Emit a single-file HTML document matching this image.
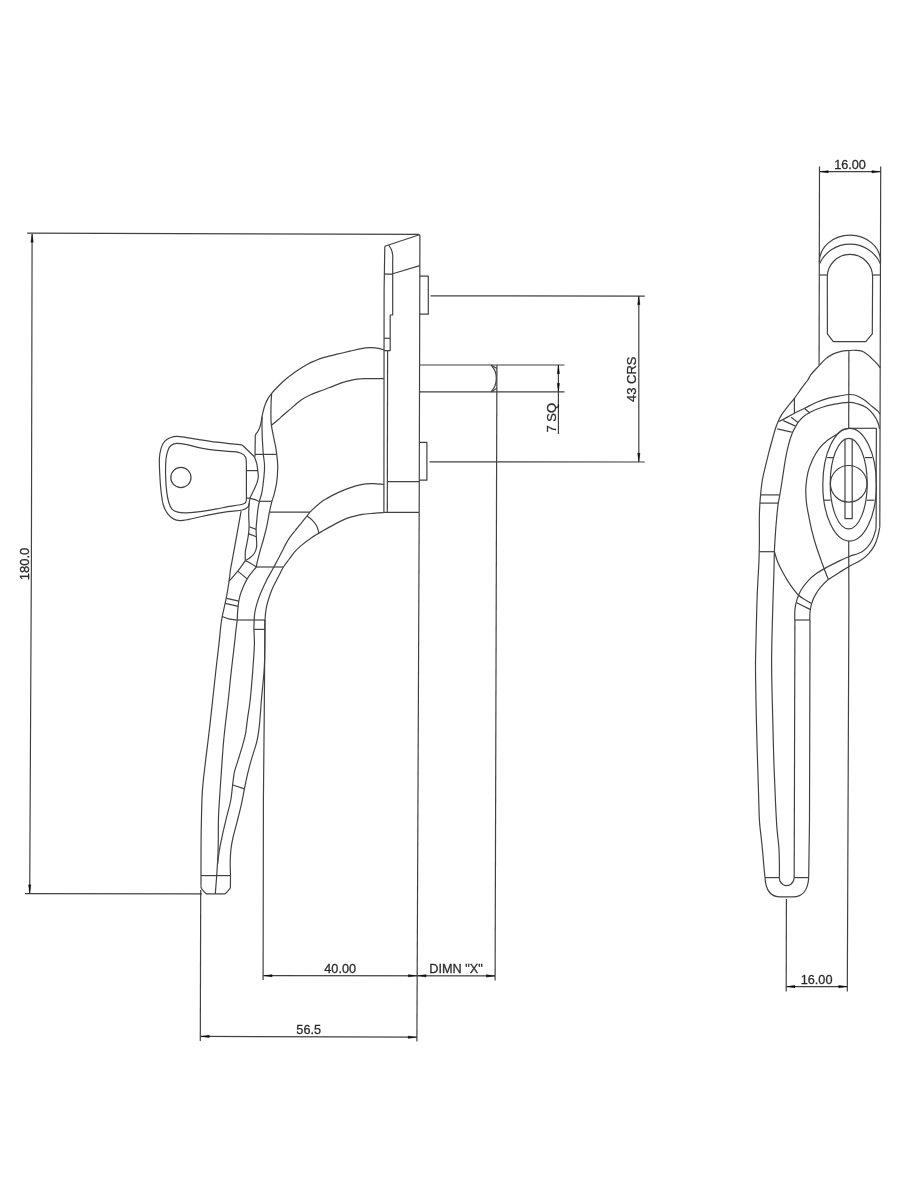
<!DOCTYPE html>
<html lang="en">
<head>
<meta charset="utf-8">
<title>Window handle technical drawing</title>
<style>
html,body{margin:0;padding:0;background:#fff;}
body{width:900px;height:1200px;overflow:hidden;}
svg{display:block;}
.ln{opacity:0.74;}
.ln path,.ln circle,.ln ellipse{fill:none;stroke:#000;stroke-width:1.2;stroke-linecap:butt;stroke-linejoin:round;}
.ln .d{stroke-width:1.2;}
.ar path{fill:#000;fill-opacity:0.85;stroke:#000;stroke-opacity:0.35;stroke-width:0.7;stroke-linejoin:round;}
.tx{opacity:0.85;}
.tx text{font-family:"Liberation Sans",Arial,Helvetica,sans-serif;fill:#000;stroke:#000;stroke-width:0.3;}
.ar{opacity:0.999;}
</style>
</head>
<body>
<svg width="900" height="1200" viewBox="0 0 900 1200">
<g class="ln">
<path class="o" d="M384.8,246.2L384.1,290.0L383.9,512.4"/>
<path class="o" d="M387.6,350.6L387.3,512.4"/>
<path class="o" d="M384.8,246.2L419.5,234.7L419.9,236.0L419.2,512.4"/>
<path class="o" d="M383.9,512.4L419.2,512.4"/>
<path class="o" d="M388.7,245.0C389.1,245.8 390.6,247.8 391.3,249.5C392.0,251.2 392.5,253.2 392.7,255.0C392.9,256.8 392.7,259.2 392.7,260.0"/>
<path class="o" d="M392.7,260.0L392.7,273.7L419.8,265.6"/>
<path class="o" d="M384.4,274.2L392.7,274.2L392.7,315.0L390.2,315.0L390.2,350.6L384.0,350.6"/>
<path class="o" d="M384.0,338.3L390.2,338.3"/>
<path class="o" d="M387.4,481.6L419.3,481.6"/>
<path class="o" d="M419.7,276.2L428.3,276.2L428.3,314.2L419.7,314.2"/>
<path class="o" d="M419.3,442.4L426.9,442.4L426.9,480.2L419.3,480.2"/>
<path class="o" d="M419.6,365.0L564.5,365.0"/>
<path class="o" d="M419.6,391.9L564.5,391.9"/>
<path class="o" d="M491.0,365.0C491.7,366.0 494.1,368.8 495.0,371.0C495.9,373.2 496.3,375.9 496.3,378.4C496.3,380.9 495.9,383.6 495.0,385.8C494.1,388.1 491.7,390.9 491.0,391.9"/>
<path class="o" d="M491.0,365.0L496.9,368.5"/>
<path class="o" d="M491.0,391.9L496.8,388.2"/>
<path class="o" d="M383.9,349.8C383.1,349.6 381.2,348.7 378.9,348.3C376.6,347.9 373.1,347.5 370.0,347.6C366.9,347.7 363.3,348.2 360.0,348.8C356.7,349.4 353.8,350.3 350.0,351.2C346.2,352.1 341.2,353.2 337.0,354.2C332.8,355.2 328.7,356.1 325.0,357.2C321.3,358.3 317.9,359.6 315.0,360.8C312.1,362.0 310.5,362.6 307.5,364.3C304.5,366.0 300.3,368.6 297.0,370.8C293.7,373.1 290.3,375.5 287.5,377.8C284.7,380.1 282.6,381.9 280.0,384.5C277.4,387.1 273.7,390.9 271.7,393.3C269.7,395.7 269.0,396.7 267.8,398.9C266.6,401.1 265.3,403.9 264.4,406.7C263.5,409.5 262.8,412.7 262.2,415.6C261.6,418.6 261.2,422.1 260.6,424.4C260.1,426.7 259.8,427.6 258.9,429.4C258.0,431.2 255.9,434.1 255.3,435.0"/>
<path class="o" d="M255.3,435.0L255.0,456.7"/>
<path class="o" d="M383.9,378.6C381.2,378.6 372.3,378.5 367.8,378.6C363.3,378.7 360.4,378.6 356.7,379.1C353.0,379.6 349.3,380.6 345.6,381.7C341.9,382.8 338.1,384.2 334.4,385.6C330.7,387.0 327.0,388.6 323.3,390.0C319.6,391.4 315.9,392.4 312.2,394.1C308.5,395.8 304.8,397.4 301.1,400.0C297.4,402.6 293.0,406.8 290.0,409.4C287.0,411.9 285.0,413.5 283.0,415.3C281.0,417.1 279.8,418.3 277.8,420.0C275.9,421.7 272.4,424.4 271.3,425.3"/>
<path class="o" d="M271.7,393.3C271.6,394.8 271.2,398.9 271.1,402.2C271.0,405.5 270.9,409.6 270.9,413.3C270.9,417.0 270.9,420.7 271.3,424.4C271.7,428.1 272.6,431.9 273.3,435.6C274.0,439.3 275.0,443.6 275.6,446.7C276.2,449.8 276.4,451.6 276.7,454.4C277.0,457.2 277.5,460.5 277.6,463.3C277.8,466.1 277.8,468.0 277.6,471.1C277.5,474.2 277.2,478.5 276.7,482.2C276.2,485.9 275.2,490.0 274.4,493.3C273.6,496.6 272.5,499.0 271.7,502.2C270.9,505.4 270.2,508.1 269.4,512.2C268.6,516.3 267.7,522.1 266.7,526.7C265.7,531.3 264.4,535.9 263.3,540.0C262.2,544.1 261.0,547.4 260.0,551.1C259.0,554.8 257.8,559.6 257.2,562.2C256.6,564.9 256.5,566.2 256.4,567.0"/>
<path class="o" d="M262.2,416.7C262.2,418.0 262.0,421.2 262.0,424.4C262.0,427.5 262.1,431.9 262.2,435.6C262.3,439.3 262.6,443.6 262.8,446.7C263.0,449.8 263.0,451.6 263.3,454.4C263.6,457.2 264.2,460.5 264.4,463.3C264.6,466.1 264.6,468.0 264.4,471.1C264.2,474.2 263.8,478.5 263.3,482.2C262.9,485.9 262.4,490.1 261.7,493.3C261.0,496.5 260.0,498.3 259.4,501.1C258.8,503.9 258.2,506.7 257.8,510.0C257.4,513.3 257.0,518.0 256.7,521.1C256.4,524.2 256.2,526.1 256.1,528.9C256.1,531.7 256.3,534.8 256.4,537.8C256.5,540.8 256.9,544.1 256.6,546.7C256.3,549.3 255.5,551.4 254.4,553.3C253.3,555.1 251.5,556.6 250.0,557.8C248.5,559.0 246.1,560.1 245.3,560.6"/>
<path class="o" d="M255.0,454.4L276.4,454.4"/>
<path class="o" d="M254.4,456.7C254.8,457.8 256.1,460.9 256.7,463.3C257.3,465.7 257.5,468.9 257.8,471.1C258.1,473.3 258.4,474.9 258.3,476.7C258.2,478.5 257.8,480.2 257.2,482.2C256.6,484.2 255.3,486.9 254.4,488.9C253.5,490.9 252.4,492.8 251.7,494.4C251.0,496.0 250.4,496.6 250.0,498.3C249.6,500.0 249.3,501.5 249.1,504.4C248.9,507.3 248.7,511.9 248.7,515.6C248.7,519.3 249.2,523.4 249.1,526.7C249.0,530.0 248.7,532.7 248.3,535.6C247.9,538.5 247.2,541.6 246.7,544.4C246.2,547.2 245.5,549.5 245.3,552.2C245.1,554.9 245.3,559.2 245.3,560.6"/>
<path class="o" d="M254.4,456.7L242.2,445.0"/>
<path class="o" d="M242.2,445.0C237.9,444.5 224.7,443.2 216.7,442.2C208.7,441.2 200.9,439.9 194.4,438.9C187.9,437.9 181.9,436.6 177.8,436.4C173.7,436.2 172.2,436.9 170.0,437.8C167.8,438.7 165.9,439.9 164.4,441.7C162.9,443.4 161.9,445.5 161.1,448.3C160.3,451.1 159.6,453.9 159.4,458.3C159.2,462.8 159.5,469.4 159.8,475.0C160.1,480.6 160.5,486.7 161.1,491.7C161.7,496.7 162.2,501.3 163.3,505.0C164.4,508.7 166.1,511.6 167.8,513.9C169.5,516.2 171.3,517.8 173.3,518.9C175.3,520.0 177.4,520.5 180.0,520.6C182.6,520.7 184.6,520.2 188.9,519.4C193.2,518.6 199.1,516.9 205.6,515.6C212.1,514.3 221.7,512.6 227.8,511.7C233.9,510.8 238.9,510.8 242.2,510.0C245.5,509.2 246.6,508.4 247.8,507.2C249.0,506.0 249.1,503.7 249.3,503.0"/>
<path class="o" d="M246.4,492.0C246.4,490.0 246.4,484.8 246.4,480.0C246.4,475.2 246.4,467.1 246.3,463.3C246.2,459.5 246.5,458.9 245.6,457.2C244.7,455.5 243.1,454.2 241.1,453.3C239.1,452.4 237.4,452.2 233.3,451.7C229.2,451.2 222.2,450.9 216.7,450.3C211.1,449.7 205.2,448.8 200.0,447.8C194.8,446.8 189.5,445.1 185.6,444.4C181.7,443.6 179.0,443.2 176.7,443.3C174.4,443.4 173.1,444.0 171.7,445.0C170.3,446.0 169.2,447.2 168.3,449.4C167.4,451.6 166.6,454.0 166.1,458.3C165.6,462.6 165.5,469.4 165.6,475.0C165.7,480.6 166.1,487.1 166.7,491.7C167.2,496.3 168.0,499.9 168.9,502.8C169.8,505.8 170.7,507.8 172.2,509.4C173.7,511.0 175.4,511.6 177.8,512.2C180.2,512.8 183.0,512.9 186.7,512.8C190.4,512.7 195.0,512.4 200.0,511.7C205.0,511.1 212.1,509.7 216.7,508.9C221.3,508.1 224.1,507.3 227.8,506.7C231.5,506.1 236.1,505.5 238.9,505.0C241.7,504.5 243.2,504.2 244.4,503.5C245.6,502.8 246.0,502.4 246.3,500.5C246.6,498.6 246.4,493.4 246.4,492.0"/>
<path class="o" d="M246.4,497.8L250.0,498.3"/>
<path class="o" d="M246.4,470.6L257.8,470.6"/>
<path class="o" d="M250.0,498.3C250.7,498.5 252.9,498.9 254.4,499.4C255.9,499.9 258.1,501.0 258.9,501.3"/>
<path class="o" d="M258.9,501.3L271.7,501.3"/>
<path class="o" d="M249.4,526.7L256.1,529.4"/>
<path class="o" d="M248.9,533.9L256.3,536.7"/>
<path class="o" d="M241.1,511.1C240.4,515.2 238.0,528.4 236.7,535.6C235.4,542.8 234.3,548.9 233.3,554.4C232.3,559.9 231.3,564.4 230.6,568.9C229.9,573.4 229.8,576.6 229.1,581.1C228.4,585.6 227.6,591.0 226.7,595.6C225.8,600.2 224.7,605.4 223.9,608.9C223.2,612.4 222.8,613.6 222.2,616.7C221.6,619.9 221.1,623.2 220.6,627.8C220.1,632.4 219.7,637.2 218.9,644.4C218.1,651.6 216.8,662.2 215.8,671.1C214.8,680.0 213.9,688.9 212.9,697.8C211.9,706.7 211.1,714.8 210.0,724.4C208.9,734.0 207.3,746.7 206.2,755.6C205.1,764.5 204.3,771.3 203.6,777.8C202.9,784.3 202.5,787.9 202.2,794.4C201.8,800.9 201.7,809.3 201.5,816.7C201.3,824.1 201.2,829.3 201.1,838.9C201.0,848.5 201.0,866.6 201.0,874.4C201.0,882.2 201.0,883.6 201.0,885.5"/>
<path class="o" d="M201,885.5 L201.1,887.6 Q201.6,889.4 206.3,893.9 L225,893.9 Q229.8,889.4 230.4,887.6 L230.5,875.6"/>
<path class="o" d="M201.1,875.6L230.5,875.6"/>
<path class="o" d="M245.3,560.6C244.1,562.4 240.5,567.7 237.8,571.1C235.1,574.5 230.6,579.4 229.1,581.1"/>
<path class="o" d="M245.3,560.6C246.1,561.0 248.2,561.9 250.0,563.0C251.8,564.1 255.3,566.3 256.4,567.0"/>
<path class="o" d="M237.8,571.1L247.2,578.9"/>
<path class="o" d="M256.1,567.0L283.3,567.0"/>
<path class="o" d="M269.4,512.2L310.0,512.2"/>
<path class="o" d="M256.4,567.0C255.5,568.0 252.6,571.3 251.1,573.3C249.6,575.3 248.5,576.7 247.2,578.9C245.9,581.1 244.5,583.9 243.3,586.7C242.1,589.5 240.8,592.7 240.0,595.6C239.2,598.5 238.7,601.6 238.3,604.4C237.9,607.2 237.8,609.6 237.6,612.2C237.4,614.8 237.4,617.2 237.2,620.0C236.9,622.8 236.6,624.8 236.1,628.9C235.6,633.0 235.2,637.4 234.4,644.4C233.6,651.4 232.3,662.2 231.3,671.1C230.3,680.0 229.4,689.3 228.5,697.8C227.6,706.3 226.5,714.4 225.6,722.2C224.7,730.0 224.0,737.0 223.3,744.4C222.7,751.8 222.2,759.1 221.7,766.7C221.2,774.3 220.6,781.7 220.1,790.0C219.6,798.3 218.8,808.6 218.5,816.7C218.2,824.9 218.4,832.0 218.3,838.9C218.2,845.8 218.1,851.9 217.8,858.0C217.5,864.1 217.1,869.6 216.7,875.6C216.3,881.6 215.5,890.9 215.3,893.9"/>
<path class="o" d="M226.7,598.3L238.9,601.1"/>
<path class="o" d="M225.3,603.3L238.3,606.3"/>
<path class="o" d="M222.2,616.4C223.3,616.8 226.4,618.3 228.9,618.9C231.4,619.5 235.8,619.8 237.2,620.0"/>
<path class="o" d="M237.2,620.0L265.0,620.0"/>
<path class="d" d="M254.0,629.4L264.8,629.4"/>
<path class="o" d="M383.9,484.3C382.1,484.2 376.4,483.7 373.3,483.6C370.2,483.5 368.4,483.6 365.6,483.9C362.8,484.2 360.0,484.7 356.7,485.6C353.4,486.5 349.3,487.9 345.6,489.4C341.9,490.9 338.1,492.5 334.4,494.4C330.7,496.3 326.4,498.6 323.3,500.6C320.2,502.7 317.8,504.8 315.6,506.7C313.4,508.6 311.5,510.6 310.0,512.2C308.5,513.8 308.2,514.5 306.7,516.4C305.2,518.2 303.0,521.0 301.1,523.3C299.2,525.6 297.5,527.7 295.6,530.0C293.8,532.3 291.7,534.8 290.0,537.2C288.3,539.6 287.1,541.7 285.6,544.4C284.1,547.1 283.1,549.5 281.1,553.3C279.2,557.1 276.3,562.5 273.9,567.0C271.5,571.5 268.9,575.6 266.7,580.0C264.5,584.4 262.3,589.2 260.6,593.3C258.9,597.4 257.7,601.1 256.7,604.4C255.7,607.7 255.1,610.7 254.7,613.3C254.3,615.9 254.3,617.4 254.2,620.0C254.1,622.6 253.9,624.8 253.9,628.9C253.9,633.0 254.6,637.4 254.4,644.4C254.2,651.4 253.4,661.8 252.7,671.1C252.0,680.4 251.0,692.4 250.2,700.0C249.4,707.6 248.6,711.2 247.8,716.7C247.0,722.2 246.5,728.3 245.6,733.3C244.7,738.3 243.5,742.1 242.2,746.7C240.9,751.3 239.1,756.9 237.8,761.1C236.5,765.4 235.2,768.5 234.4,772.2C233.6,775.9 233.4,778.7 232.8,783.3C232.2,787.9 231.8,794.4 230.8,800.0C229.8,805.6 228.0,811.2 226.7,816.7C225.4,822.2 223.9,828.3 222.8,833.3C221.7,838.3 220.8,842.6 220.0,846.7C219.2,850.8 218.7,854.9 218.3,857.8C217.9,860.7 217.7,863.0 217.6,864.0"/>
<path class="o" d="M383.9,512.6C382.1,512.7 376.9,513.0 373.3,513.3C369.7,513.6 365.7,513.8 362.2,514.4C358.7,515.0 355.0,516.0 352.2,516.7C349.4,517.5 348.6,517.6 345.6,518.9C342.6,520.2 338.1,522.4 334.4,524.4C330.7,526.4 327.0,528.5 323.3,530.6C319.6,532.7 315.9,534.7 312.2,537.2C308.5,539.7 304.1,543.1 301.1,545.6C298.1,548.1 296.4,549.9 294.4,552.2C292.4,554.5 290.8,557.0 288.9,559.5C287.0,562.0 285.1,564.2 283.3,567.2C281.5,570.2 279.7,574.2 277.8,577.8C275.9,581.4 273.8,585.2 272.2,588.9C270.6,592.6 269.3,596.7 268.3,600.0C267.3,603.3 266.7,605.6 266.1,608.9C265.6,612.2 265.2,616.7 265.0,620.0C264.8,623.3 264.9,624.8 264.9,628.9C264.9,633.0 264.9,639.2 264.8,644.4C264.8,649.6 264.7,655.4 264.6,660.0C264.5,664.6 264.3,667.8 264.0,672.0C263.7,676.2 263.2,680.3 262.8,685.0C262.4,689.7 261.8,694.7 261.4,700.0C260.9,705.3 260.6,711.8 260.1,717.0C259.7,722.2 259.3,726.9 258.7,731.1C258.1,735.3 257.6,738.5 256.7,742.2C255.8,745.9 254.4,749.6 253.3,753.3C252.2,757.0 251.1,760.3 250.0,764.4C248.9,768.5 247.6,773.7 246.7,777.8C245.8,781.9 245.3,784.3 244.4,788.9C243.5,793.5 242.4,799.9 241.1,805.6C239.8,811.3 238.1,817.9 236.7,823.3C235.3,828.7 233.8,833.9 232.9,838.0C232.0,842.1 231.6,844.1 231.1,848.0C230.6,851.9 230.3,856.5 230.2,861.1C230.1,865.7 230.4,873.2 230.5,875.6"/>
<path class="o" d="M307.2,516.1C308.0,516.8 310.6,518.6 312.2,520.2C313.8,521.9 315.6,523.9 316.7,526.0C317.8,528.1 318.5,531.8 318.9,533.0"/>
<path class="o" d="M232.8,785.0L244.4,788.9"/>
<path class="d" d="M27.2,233.1L419.0,234.4"/>
<path class="d" d="M25.0,893.7L202.0,893.9"/>
<path class="d" d="M32.1,234.0L31.4,560.0L29.7,893.5"/>
<path class="d" d="M200.7,890.0L200.3,1041.0"/>
<path class="d" d="M265.0,620.0L264.2,720.0L263.4,800.0L263.1,980.0"/>
<path class="d" d="M419.2,512.4L416.9,1041.4"/>
<path class="d" d="M496.9,365.0L495.1,980.4"/>
<path class="d" d="M263.2,975.7L495.1,975.9"/>
<path class="d" d="M200.4,1036.4L416.9,1037.2"/>
<path class="d" d="M430.5,295.9L644.8,296.1"/>
<path class="d" d="M429.5,461.9L644.8,462.0"/>
<path class="d" d="M638.8,296.1L638.8,462.0"/>
<path class="d" d="M558.4,365.0L558.4,434.0"/>
<path class="o" d="M819.5,166.5L819.1,365.6"/>
<path class="o" d="M880.7,166.5L880.2,368.0L879.8,527.8"/>
<path class="d" d="M820.0,171.7L880.5,171.7"/>
<path class="o" d="M819.4,261.7 A30.6,26.7 0 0 1 880.6,261.7"/>
<path class="o" d="M819.4,263.9 A33.5,33.5 0 0 1 880.6,263.9"/>
<path class="o" d="M819.4,275.0L827.3,275.0"/>
<path class="o" d="M872.6,275.0L880.6,275.0"/>
<path class="o" d="M827.4,333.9 L827.3,277 A22.65,22.65 0 0 1 872.6,277 L872.3,333.9 L865.8,341.7 L833.3,341.7 Z"/>
<path class="o" d="M819.1,365.6C820.2,364.5 823.2,360.8 825.6,358.9C828.0,356.9 830.7,355.2 833.3,353.9C835.9,352.6 838.5,351.9 841.1,351.3C843.7,350.7 846.5,350.7 848.9,350.5C851.3,350.3 853.6,350.2 855.6,350.3C857.6,350.4 859.2,350.3 861.1,350.9C863.0,351.5 864.9,352.6 866.7,353.9C868.6,355.2 870.4,357.1 872.2,358.9C874.1,360.7 876.5,363.1 877.8,364.6C879.1,366.1 879.8,367.4 880.2,368.0"/>
<path class="o" d="M819.1,365.6C817.8,367.1 813.0,372.0 811.1,374.4C809.2,376.8 809.5,377.6 807.8,380.0C806.1,382.4 803.3,385.8 801.1,388.9C798.9,391.9 796.8,395.1 794.4,398.3C792.0,401.5 788.9,404.9 786.7,407.8C784.5,410.7 782.6,413.2 781.1,415.6C779.6,418.0 778.8,419.8 777.8,422.2C776.8,424.6 775.9,427.0 775.0,430.0C774.1,433.0 773.2,436.3 772.2,440.0C771.2,443.7 770.0,447.9 768.9,452.2C767.8,456.5 766.7,461.0 765.6,465.6C764.5,470.2 763.2,475.0 762.4,480.0C761.5,485.0 761.0,490.1 760.5,495.8C760.0,501.5 759.6,506.7 759.4,514.1C759.2,521.5 759.5,532.0 759.4,540.0C759.3,548.0 759.3,552.9 758.9,562.2C758.5,571.5 757.7,582.6 757.2,595.6C756.7,608.6 756.3,628.4 756.0,640.0C755.7,651.6 755.5,656.7 755.5,665.0C755.5,673.3 755.6,680.0 755.8,690.0C756.0,700.0 756.2,713.3 756.5,725.0C756.8,736.7 757.1,748.3 757.5,760.0C757.9,771.7 758.3,785.0 758.6,795.0C758.9,805.0 759.0,813.0 759.4,820.0C759.8,827.0 760.5,831.2 761.1,836.7C761.7,842.2 762.3,848.3 762.8,853.3C763.3,858.3 763.5,862.7 763.9,866.7C764.3,870.8 764.8,875.8 765.0,877.6"/>
<path class="o" d="M765,877.6 C765.6,889 770.5,896.9 780.5,896.9 L793,896.9 C803,896.9 808.1,889 808.7,877.6"/>
<path class="o" d="M765.0,877.6L779.4,877.6"/>
<path class="o" d="M794.2,877.6L808.7,877.6"/>
<path class="o" d="M779.4,877.6C779.5,878.2 779.4,880.0 780.0,881.1C780.6,882.2 781.7,883.6 782.8,884.4C783.9,885.1 785.4,885.6 786.7,885.6C788.0,885.6 789.5,885.1 790.6,884.4C791.7,883.6 792.7,882.2 793.3,881.1C793.9,880.0 794.1,878.2 794.2,877.6"/>
<path class="o" d="M794.9,620.0L794.2,877.6"/>
<path class="o" d="M810.0,620.0L809.5,820.0L808.7,877.6"/>
<path class="o" d="M798.3,422.2C797.8,422.9 796.6,424.8 795.6,426.7C794.6,428.6 793.3,430.5 792.2,433.3C791.1,436.1 789.9,439.6 788.9,443.3C787.9,447.0 786.9,451.3 786.1,455.6C785.3,459.9 784.5,464.8 783.9,468.9C783.2,473.0 782.9,475.8 782.2,480.0C781.6,484.2 780.7,489.8 780.0,494.0C779.3,498.2 778.6,500.1 778.0,505.0C777.4,509.9 776.7,517.5 776.2,523.3C775.7,529.1 775.3,535.3 775.0,540.0C774.7,544.7 774.6,546.2 774.4,551.7C774.2,557.2 774.2,564.1 773.9,573.3C773.6,582.5 773.1,595.6 772.8,606.7C772.5,617.8 772.1,630.3 771.9,640.0C771.7,649.7 771.6,656.7 771.6,665.0C771.6,673.3 771.8,680.0 772.0,690.0C772.2,700.0 772.6,713.3 772.9,725.0C773.2,736.7 773.4,748.3 773.8,760.0C774.2,771.7 774.8,785.0 775.2,795.0C775.6,805.0 776.1,814.0 776.4,820.0C776.7,826.0 776.8,826.5 777.2,831.1C777.6,835.7 778.5,842.2 778.9,847.8C779.3,853.3 779.3,859.4 779.4,864.4C779.5,869.4 779.4,875.4 779.4,877.6"/>
<path class="o" d="M848.9,350.5L848.7,428.3"/>
<path class="o" d="M848.7,541.1L848.9,600.0L847.3,991.5"/>
<path class="o" d="M778.3,421.7C779.1,421.3 780.6,420.8 783.3,419.4C786.0,418.0 790.7,415.2 794.4,413.3C798.1,411.4 801.9,409.7 805.6,407.8C809.3,405.9 813.0,403.8 816.7,402.2C820.4,400.6 824.1,399.3 827.8,398.3C831.5,397.3 835.4,396.7 838.9,396.1C842.4,395.5 846.1,394.6 848.9,394.5C851.7,394.4 853.0,394.4 855.6,395.3C858.2,396.2 861.8,398.3 864.4,400.0C867.0,401.7 868.9,403.8 871.1,405.6C873.3,407.5 876.3,409.7 877.8,411.1C879.3,412.5 879.5,413.4 879.9,413.9"/>
<path class="o" d="M798.3,422.2C799.1,421.3 801.2,418.4 803.3,416.7C805.4,414.9 808.0,413.3 811.1,411.7C814.2,410.1 818.5,408.4 822.2,407.2C825.9,406.0 828.9,405.2 833.3,404.4C837.7,403.6 844.6,402.5 848.7,402.4C852.8,402.3 854.8,403.0 857.8,403.9C860.8,404.8 864.1,406.1 866.7,407.8C869.3,409.6 871.4,412.0 873.3,414.4C875.1,416.8 876.8,419.8 877.8,422.2C878.8,424.6 879.3,427.8 879.6,428.9"/>
<path class="o" d="M794.4,398.3L794.4,413.3"/>
<path class="o" d="M804.4,408.3L810.0,413.3"/>
<path class="o" d="M791.1,417.2L798.3,422.8"/>
<path class="o" d="M783.3,420.6L795.6,426.1"/>
<path class="o" d="M777.2,428.9L791.7,432.2"/>
<path class="o" d="M760.5,494.9L779.8,494.9"/>
<path class="o" d="M759.8,503.1L778.4,503.1"/>
<path class="o" d="M759.4,551.7L774.4,551.7"/>
<path class="o" d="M848.7,428.3C847.6,428.6 844.2,429.0 842.2,430.0C840.2,431.0 839.1,432.7 836.7,434.4C834.3,436.1 830.8,437.6 827.8,440.0C824.8,442.4 821.5,445.6 818.9,448.9C816.3,452.2 814.2,456.1 812.4,460.0C810.6,463.9 809.1,467.7 808.0,472.2C806.9,476.7 806.2,482.0 805.9,487.0C805.6,492.0 805.9,497.2 806.4,502.2C806.9,507.1 807.9,511.7 808.9,516.7C809.9,521.7 810.9,527.0 812.2,532.2C813.5,537.4 815.0,542.6 816.7,547.8C818.4,553.0 820.3,558.2 822.2,563.5C824.1,568.8 827.3,576.8 828.3,579.4"/>
<path class="o" d="M848.7,428.3L876.4,428.3"/>
<path class="o" d="M845.0,439.0L845.0,518.7L852.2,518.7L852.2,439.0"/>
<path class="o" d="M827.2,457.6L833.9,457.6"/>
<path class="o" d="M865.0,457.6L872.2,457.6"/>
<path class="o" d="M823.9,500.2L830.6,500.2"/>
<path class="o" d="M866.7,500.2L874.4,500.2"/>
<path class="o" d="M876.4,428.3C876.4,436.9 876.2,464.0 876.2,480.0C876.2,496.0 876.3,515.7 876.1,524.4C875.9,533.1 875.6,529.6 875.0,532.2C874.4,534.8 873.4,537.6 872.2,540.0C871.0,542.4 869.6,544.7 867.8,546.7C865.9,548.7 864.3,550.5 861.1,552.2C857.9,553.9 852.4,555.2 848.7,556.7C845.0,558.2 842.4,559.4 838.9,561.1C835.4,562.8 831.5,564.7 827.8,566.7C824.1,568.7 820.0,570.9 816.7,573.3C813.4,575.7 810.4,578.3 807.8,581.1C805.2,583.9 802.9,587.0 801.1,590.0C799.3,593.0 798.2,595.8 797.2,598.9C796.2,602.0 795.4,605.4 795.0,608.9C794.6,612.4 794.8,618.1 794.7,620.0"/>
<path class="o" d="M879.8,527.8C879.7,528.0 879.7,527.4 879.4,528.9C879.1,530.4 878.6,533.9 877.8,536.7C877.0,539.5 875.9,542.8 874.4,545.6C872.9,548.4 871.1,550.9 868.9,553.3C866.7,555.7 864.5,557.8 861.1,560.0C857.7,562.2 852.4,564.6 848.7,566.7C845.0,568.8 842.4,570.6 838.9,572.8C835.4,575.0 830.8,577.7 827.8,580.0C824.8,582.3 823.1,584.3 821.1,586.7C819.1,589.1 817.2,591.6 815.6,594.4C814.0,597.2 812.6,600.3 811.7,603.3C810.8,606.3 810.3,609.4 810.0,612.2C809.7,615.0 809.8,618.7 809.8,620.0"/>
<path class="o" d="M774.4,551.7C775.0,553.5 776.3,558.6 777.8,562.2C779.3,565.8 781.3,569.6 783.3,573.3C785.3,577.0 787.5,580.8 790.0,584.4C792.5,588.0 795.7,592.4 798.3,595.0C800.9,597.6 803.4,598.6 805.6,600.0C807.8,601.4 810.7,603.0 811.7,603.6"/>
<path class="o" d="M796.7,602.8L810.0,609.4"/>
<path class="o" d="M794.7,620.0L809.8,620.0"/>
<path class="d" d="M786.4,898.9L786.2,991.5"/>
<path class="d" d="M786.5,986.6L847.3,986.6"/>
<circle class="o" cx="180.9" cy="477.5" r="10.1"/>
<ellipse class="o" cx="849.6" cy="484.7" rx="26.8" ry="56.4"/>
<ellipse class="o" cx="848.7" cy="483.6" rx="18.5" ry="45.3"/>
<circle class="o" cx="848.7" cy="483.8" r="18.3"/>
</g>
<g class="ar">
<path d="M32.1,233.8L33.4,242.3L30.8,242.3Z"/>
<path d="M29.7,893.3L28.4,884.8L31.0,884.8Z"/>
<path d="M263.6,975.7L272.1,974.4L272.1,977.0Z"/>
<path d="M416.8,975.8L408.3,977.1L408.3,974.5Z"/>
<path d="M417.6,975.8L426.1,974.5L426.1,977.1Z"/>
<path d="M494.9,975.9L486.4,977.2L486.4,974.6Z"/>
<path d="M200.8,1036.4L209.3,1035.1L209.3,1037.7Z"/>
<path d="M416.6,1037.2L408.1,1038.5L408.1,1035.9Z"/>
<path d="M638.8,296.3L640.1,304.8L637.5,304.8Z"/>
<path d="M638.8,461.8L637.5,453.3L640.1,453.3Z"/>
<path d="M558.4,365.2L559.7,373.7L557.1,373.7Z"/>
<path d="M558.4,391.7L557.1,383.2L559.7,383.2Z"/>
<path d="M819.8,171.7L828.3,170.4L828.3,173.0Z"/>
<path d="M880.4,171.7L871.9,173.0L871.9,170.4Z"/>
<path d="M786.5,986.6L795.0,985.3L795.0,987.9Z"/>
<path d="M847.2,986.6L838.7,987.9L838.7,985.3Z"/>
</g>
<g class="tx">
<text x="29" y="564" font-size="13.0" text-anchor="middle" transform="rotate(-90 29 564)">180.0</text>
<text x="340.2" y="973.2" font-size="12.7" text-anchor="middle">40.00</text>
<text x="456" y="973.2" font-size="12.7" text-anchor="middle">DIMN "X"</text>
<text x="308.7" y="1034.3" font-size="12.7" text-anchor="middle">56.5</text>
<text x="636.4" y="379.3" font-size="13.0" text-anchor="middle" transform="rotate(-90 636.4 379.3)">43 CRS</text>
<text x="555.6" y="417.8" font-size="13.0" text-anchor="middle" transform="rotate(-90 555.6 417.8)">7 SQ</text>
<text x="850" y="169.3" font-size="12.7" text-anchor="middle">16.00</text>
<text x="816.6" y="984" font-size="12.7" text-anchor="middle">16.00</text>
</g>
</svg>
</body>
</html>
